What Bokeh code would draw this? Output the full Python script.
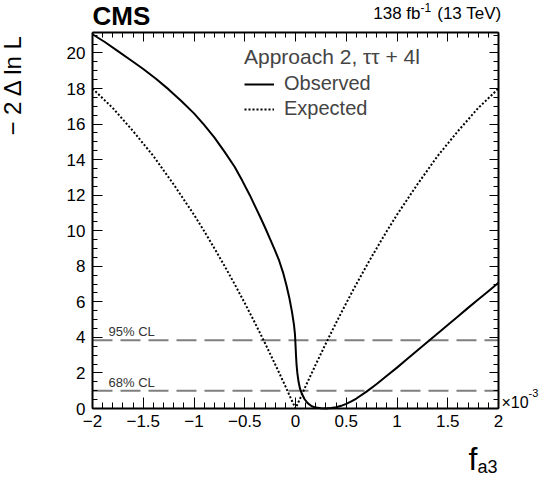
import math
from bokeh.plotting import figure
from bokeh.models import (FixedTicker, LinearAxis, Label, Legend, LegendItem, Range1d)
from bokeh.embed import file_html
from bokeh.resources import INLINE

# ---------------- data (f_a3 in units of 1e-3) ----------------
obs_x = [-2.0, -1.875, -1.75, -1.625, -1.5, -1.375, -1.25, -1.125, -1.0, -0.9, -0.8, -0.7,
         -0.6, -0.525, -0.45, -0.4, -0.35, -0.3, -0.25, -0.2, -0.16, -0.12, -0.09, -0.06,
         -0.035, -0.015, -0.005, 0.0, 0.005, 0.01, 0.018, 0.03, 0.045, 0.065, 0.09, 0.12,
         0.16, 0.2, 0.25, 0.3, 0.35, 0.4, 0.45, 0.5, 0.55, 0.6, 0.7, 0.8, 0.9, 1.0,
         1.1, 1.2, 1.3, 1.4, 1.5, 1.6, 1.7, 1.8, 1.9, 2.0]
obs_y = [21.05, 20.6, 20.1, 19.6, 19.1, 18.55, 17.95, 17.3, 16.6, 15.95, 15.25, 14.45,
         13.6, 12.82, 12.0, 11.4, 10.8, 10.18, 9.53, 8.87, 8.3, 7.6, 6.95, 6.2,
         5.45, 4.7, 4.15, 3.6, 3.0, 2.5, 2.0, 1.5, 1.1, 0.8, 0.52, 0.3,
         0.13, 0.05, 0.01, 0.0, 0.025, 0.07, 0.15, 0.26, 0.4, 0.56, 0.95, 1.38, 1.84, 2.3,
         2.78, 3.26, 3.74, 4.22, 4.7, 5.18, 5.66, 6.13, 6.6, 7.07]

exp_x = [-2.0, -1.8, -1.6, -1.4, -1.2, -1.0, -0.9, -0.8, -0.7, -0.6, -0.5, -0.4, -0.3,
         -0.2, -0.1, -0.05, 0.0, 0.05, 0.1, 0.2, 0.3, 0.4, 0.5, 0.6, 0.7, 0.8, 0.9,
         1.0, 1.2, 1.4, 1.6, 1.8, 2.0]
exp_y = [18.0, 16.9, 15.6, 14.2, 12.6, 10.9, 9.98, 9.02, 8.03, 7.0, 5.93, 4.82, 3.67,
         2.48, 1.26, 0.62, 0.0, 0.62, 1.26, 2.48, 3.67, 4.82, 5.93, 7.0, 8.03, 9.02, 9.98,
         10.9, 12.6, 14.2, 15.6, 16.9, 18.0]

cl_levels = [1.0, 3.84]
cl_labels = ["68% CL", "95% CL"]

x_ticks = [-2, -1.5, -1, -0.5, 0, 0.5, 1, 1.5, 2]
x_tick_labels = ["\u22122", "\u22121.5", "\u22121", "\u22120.5", "0", "0.5", "1", "1.5", "2"]
x_minor = [round(-2 + 0.1 * i, 2) for i in range(41)]
y_ticks = [0, 2, 4, 6, 8, 10, 12, 14, 16, 18, 20]
y_tick_labels = [str(v) for v in y_ticks]
y_minor = [0.5 * i for i in range(43)]

legend_title = "Approach 2, \u03c4\u03c4 + 4l"
series_names = ["Observed", "Expected"]

# ---------------- layout ----------------
FONT = "Liberation Sans"
W, H = 547, 480
XMIN, XMAX = -2.0, 2.0        # visible box of the plot
YMIN, YMAX = 0.0, 21.15
BX0, BX1, BY0, BY1 = 92, 498, 32, 408   # box edges on the canvas (px)
SX = (BX1 - BX0) / (XMAX - XMIN)
SY = (BY1 - BY0) / (YMAX - YMIN)


def dx(px):
    return XMIN + (px - BX0) / SX


def dy(py):
    return YMIN + (BY1 - py) / SY


p = figure(width=W, height=H,
           x_range=Range1d(dx(0), dx(W)), y_range=Range1d(dy(H), dy(0)),
           output_backend="svg", toolbar_location=None,
           x_axis_location=None, y_axis_location=None,
           min_border=0, min_border_left=0, min_border_right=0,
           min_border_top=0, min_border_bottom=0)
p.xgrid.grid_line_color = None
p.ygrid.grid_line_color = None
p.outline_line_color = None
p.background_fill_color = "white"
p.border_fill_color = "white"


def make_axis(ticks, minor, labels, show_labels, major_len, minor_len, standoff, loc, bounds):
    ax = LinearAxis(fixed_location=loc, bounds=bounds)
    ax.ticker = FixedTicker(ticks=ticks, minor_ticks=minor)
    ax.axis_line_width = 2
    ax.axis_line_color = "black"
    ax.major_tick_in = major_len
    ax.major_tick_out = 0
    ax.minor_tick_in = minor_len
    ax.minor_tick_out = 0
    ax.major_tick_line_width = 1
    ax.minor_tick_line_width = 1
    ax.axis_label = None
    if show_labels:
        ax.major_label_overrides = {t: l for t, l in zip(ticks, labels)}
        ax.major_label_text_font = FONT
        ax.major_label_text_font_size = "17px"
        ax.major_label_text_color = "black"
        ax.major_label_standoff = standoff
    else:
        ax.major_label_overrides = {t: "" for t in ticks}
        ax.major_label_text_font_size = "0px"
        ax.major_label_standoff = 0
    return ax


p.add_layout(make_axis(x_ticks, x_minor, x_tick_labels, True, 11, 6, 6, YMIN, (XMIN, XMAX)), "below")
p.add_layout(make_axis(x_ticks, x_minor, x_tick_labels, False, 9, 5, 0, YMAX, (XMIN, XMAX)), "above")
p.add_layout(make_axis(y_ticks, y_minor, y_tick_labels, True, 10, 5, 7, XMIN, (YMIN, YMAX)), "left")
p.add_layout(make_axis(y_ticks, y_minor, y_tick_labels, False, 9, 5, 0, XMAX, (YMIN, YMAX)), "right")

# CL lines and labels
p.segment(x0=[XMIN] * len(cl_levels), x1=[XMAX] * len(cl_levels), y0=cl_levels, y1=cl_levels,
          line_color="#7f7f7f", line_width=2, line_dash="20 8")
for lvl, lab in zip(cl_levels, cl_labels):
    # text sits just above its line
    p.add_layout(Label(x=dx(108), y=lvl + 8.5 / SY, text=lab,
                       text_font=FONT, text_font_size="13px", text_color="#333333",
                       text_baseline="middle", text_align="left"))

# curves
r_obs = p.line(obs_x, obs_y, line_color="black", line_width=2)
r_exp = p.line(exp_x, exp_y, line_color="black", line_width=2, line_dash="2 2")

legend = Legend(items=[LegendItem(label=series_names[0], renderers=[r_obs]),
                       LegendItem(label=series_names[1], renderers=[r_exp])],
                title=legend_title, title_text_font=FONT, title_text_font_size="21px",
                title_text_font_style="normal", title_standoff=3,
                label_text_font=FONT, label_text_font_size="20px",
                glyph_width=30, glyph_height=22, label_height=22, label_standoff=10,
                spacing=2, padding=0, margin=0, border_line_color=None,
                background_fill_alpha=0, location=(244, H - 120))
p.add_layout(legend)


def text(px, py_center, s, size, align="left", bold=False, angle=0.0):
    p.add_layout(Label(x=dx(px), y=dy(py_center), text=s, text_font=FONT,
                       text_font_size=f"{size}px", text_font_style="bold" if bold else "normal",
                       text_align=align, text_baseline="middle", text_color="black",
                       angle=angle))


# header
text(92, 24 - 0.32 * 26, "CMS", 26, bold=True)
text(501, 18.3 - 0.32 * 17, "(13 TeV)", 17, align="right")
text(420, 10.8 - 0.32 * 12, "-1", 12, align="left")
text(420, 18.3 - 0.32 * 17, "138 fb", 17, align="right")
# axis titles
text(11.5, 33, "\u2212 2 \u0394 ln L", 24, align="right", angle=math.pi / 2)
text(477, 469 - 0.32 * 32, "f", 32, align="right")
text(477, 472 - 0.32 * 18, "a3", 18, align="left")
# exponent of the x axis
text(501, 407 - 0.32 * 16, "\u00d710", 16)
text(528, 396 - 0.32 * 11, "-3", 11)

open("out.html", "w").write(file_html(p, INLINE))
